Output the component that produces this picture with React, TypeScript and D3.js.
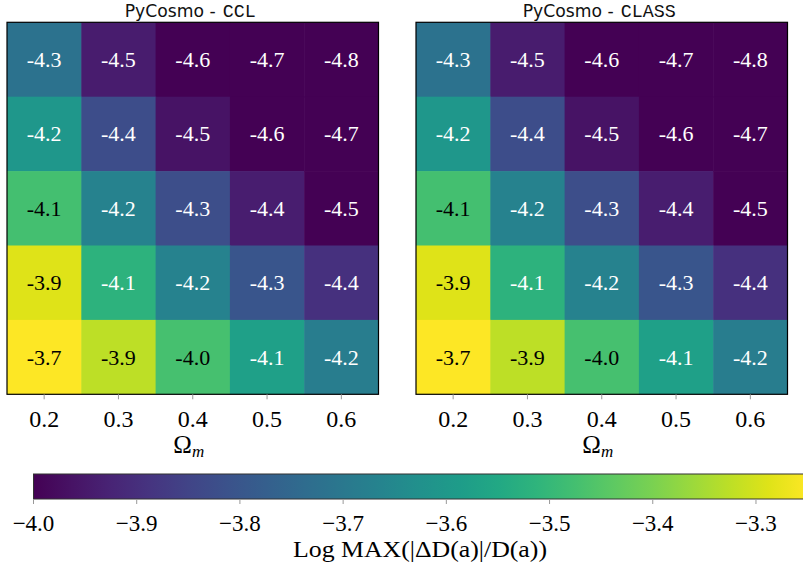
import React from "react";
import * as d3 from "d3";

// ---- data ----
const omegaM = [0.2, 0.3, 0.4, 0.5, 0.6];
const rowIds = [0, 1, 2, 3, 4]; // rows top -> bottom (no y labels shown)

// Log MAX(|ΔD(a)|/D(a)) estimated (unrounded) values, rows top -> bottom
const cclValues = [
  [-4.26, -4.452, -4.6, -4.7, -4.8],
  [-4.16, -4.351, -4.47, -4.6, -4.7],
  [-4.052, -4.22, -4.349, -4.448, -4.52],
  [-3.892, -4.09, -4.22, -4.33, -4.41],
  [-3.72, -3.924, -4.048, -4.14, -4.23],
];
const classValues = [
  [-4.26, -4.452, -4.6, -4.7, -4.8],
  [-4.16, -4.351, -4.47, -4.6, -4.7],
  [-4.052, -4.22, -4.349, -4.448, -4.52],
  [-3.892, -4.09, -4.22, -4.33, -4.41],
  [-3.72, -3.924, -4.048, -4.14, -4.23],
];
const titlePrefix = "PyCosmo -";
const titleCodes = ["CCL", "CLASS"];
const cellColorDomain = [-4.5, -3.86];
const colorbarDomain = [-4.0, -3.25];
const colorbarTicks = [-4.0, -3.9, -3.8, -3.7, -3.6, -3.5, -3.4, -3.3];

// ---- layout ----
const W = 803;
const H = 572;
const panelX = [7, 416];
const panelW = 371.5;
const panelTop = 22.3;
const panelBottom = 394.3;
const cbLeft = 33.5;
const cbPxPer01 = 103.21;
const cbTop = 474;
const cbBottom = 499;

const serif = "'Liberation Serif', 'Times New Roman', serif";

function Panel({ values, left, code }: { values: number[][]; left: number; code: string }) {
  const x = d3.scaleBand<number>().domain(omegaM).range([left, left + panelW]);
  const y = d3.scaleBand<number>().domain(rowIds).range([panelTop, panelBottom]);
  const t = d3.scaleLinear().domain(cellColorDomain).range([0, 1]).clamp(true);
  const cx = left + panelW / 2;
  const prefixW = 91;
  const gap = 7;
  const codeW = code.length * 11;
  const titleLeft = cx - 2.5 - (prefixW + gap + codeW) / 2;
  return (
    <g>
      <text
        x={titleLeft}
        y={17}
        fontSize={18}
        fontFamily="'DejaVu Sans', sans-serif"
        textLength={prefixW}
        lengthAdjust="spacingAndGlyphs"
        fill="#111"
      >
        {titlePrefix}
      </text>
      <text
        x={titleLeft + prefixW + gap}
        y={17}
        fontSize={18.5}
        fontFamily="'Liberation Mono', monospace"
        textLength={codeW}
        lengthAdjust="spacingAndGlyphs"
        fill="#111"
      >
        {code}
      </text>
      {values.map((row, ri) =>
        row.map((v, ci) => (
          <rect
            key={`${ri}-${ci}`}
            x={x(omegaM[ci])!}
            y={y(rowIds[ri])!}
            width={x.bandwidth() + (ci < omegaM.length - 1 ? 0.6 : 0)}
            height={y.bandwidth() + (ri < rowIds.length - 1 ? 0.6 : 0)}
            fill={d3.interpolateViridis(t(v))}
          />
        ))
      )}
      {values.map((row, ri) =>
        row.map((v, ci) => (
          <text
            key={`t${ri}-${ci}`}
            x={x(omegaM[ci])! + x.bandwidth() / 2}
            y={y(rowIds[ri])! + y.bandwidth() / 2 + 7.5}
            textAnchor="middle"
            fontFamily={serif}
            fontSize={22}
            fill={t(v) > 0.66 ? "#000" : "#fff"}
          >
            {v.toFixed(1)}
          </text>
        ))
      )}
      <rect x={left} y={panelTop} width={panelW} height={panelBottom - panelTop} fill="none" stroke="#000" strokeWidth={1.2} />
      {omegaM.map((m) => {
        const px = x(m)! + x.bandwidth() / 2;
        return (
          <g key={m}>
            <line x1={px} x2={px} y1={panelBottom} y2={panelBottom + 5} stroke="#999" strokeWidth={1} />
            <text x={px} y={427} textAnchor="middle" fontFamily={serif} fontSize={24} fill="#000">
              {m.toFixed(1)}
            </text>
          </g>
        );
      })}
      <text x={cx - 4} y={453} textAnchor="middle" fontFamily={serif} fontSize={25} fill="#000">
        Ω
        <tspan fontStyle="italic" fontSize={17} dy={4}>m</tspan>
      </text>
    </g>
  );
}

export default function App() {
  const cb = d3
    .scaleLinear()
    .domain(colorbarDomain)
    .range([cbLeft, cbLeft + ((colorbarDomain[1] - colorbarDomain[0]) / 0.1) * cbPxPer01]);
  const stops = d3.range(0, 1.0001, 0.05);
  const fmt = d3.format(".1f");
  return (
    <svg
      width={W}
      height={H}
      style={{ position: "absolute", left: 0, top: 0, background: "#fff" }}
      xmlns="http://www.w3.org/2000/svg"
    >
      <defs>
        <linearGradient id="cbgrad" gradientUnits="userSpaceOnUse" x1={cb.range()[0]} x2={cb.range()[1]} y1={0} y2={0}>
          {stops.map((s) => (
            <stop key={s} offset={s} stopColor={d3.interpolateViridis(s)} />
          ))}
        </linearGradient>
      </defs>
      <rect x={0} y={0} width={W} height={H} fill="#fff" />
      {[cclValues, classValues].map((vals, i) => (
        <Panel key={i} values={vals} left={panelX[i]} code={titleCodes[i]} />
      ))}
      <rect
        x={cb.range()[0]}
        y={cbTop}
        width={cb.range()[1] - cb.range()[0]}
        height={cbBottom - cbTop}
        fill="url(#cbgrad)"
        stroke="#333"
        strokeWidth={1}
      />
      {colorbarTicks.map((tk) => (
        <g key={tk}>
          <line x1={cb(tk)} x2={cb(tk)} y1={cbBottom} y2={cbBottom + 5} stroke="#999" strokeWidth={1} />
          <text x={cb(tk)} y={531} textAnchor="middle" fontFamily={serif} fontSize={23} fill="#000">
            {fmt(tk)}
          </text>
        </g>
      ))}
      <text
        x={420}
        y={557}
        textAnchor="middle"
        fontFamily={serif}
        fontSize={24}
        textLength={254}
        lengthAdjust="spacingAndGlyphs"
        fill="#000"
      >
        Log MAX(|ΔD(a)|/D(a))
      </text>
    </svg>
  );
}
